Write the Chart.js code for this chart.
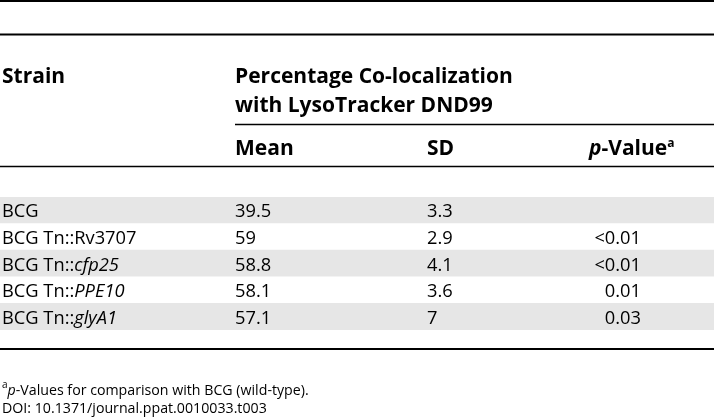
<!DOCTYPE html>
<html>
<head>
<meta charset="utf-8">
<script src="https://cdn.jsdelivr.net/npm/chart.js@4/dist/chart.umd.min.js"></script>
<style>
  html, body { margin: 0; padding: 0; background: #fff; }
  #tabela { display: block; }
</style>
</head>
<body>
<canvas id="tabela" width="714" height="419"></canvas>
<script>
// dados da tabela
const strainNames = ["BCG", "BCG Tn::Rv3707", "BCG Tn::", "BCG Tn::", "BCG Tn::"]
const strainItalic = ["", "", "cfp25", "PPE10", "glyA1"]
const means = [39.5, 59, 58.8, 58.1, 57.1]
const sds = [3.3, 2.9, 4.1, 3.6, 7]
const pValues = ["", "<0.01", "<0.01", "0.01", "0.03"]
const rowShade = ["#e6e6e6", "#ffffff", "#e6e6e6", "#ffffff", "#e6e6e6"]

const colStrain = 2
const colMean = 235
const colSD = 427
const colP = 589
const colPRight = 641

const FAM = "'Open Sans', sans-serif"
const fBody = "18.3px " + FAM
const fBodyIt = "italic 18.3px " + FAM
const fHead = "bold 21px " + FAM
const fHeadIt = "italic bold 21px " + FAM
const fNote = "14.2px " + FAM
const fNoteIt = "italic 14.2px " + FAM
const fSup = "10px " + FAM
const fSupB = "bold 12px " + FAM

function runs(ctx, x, y, parts) {
    let cx = x
    parts.forEach(p => {
        ctx.font = p.font
        ctx.fillText(p.text, cx, y + (p.dy || 0))
        cx += ctx.measureText(p.text).width
    })
    return cx
}

function rule(ctx, x0, x1, y, w) {
    ctx.fillStyle = "#000"
    ctx.fillRect(x0, y - w / 2, x1 - x0, w)
}

const tablePlugin = {
    id: "tablePlugin",
    afterDraw(chart) {
        const ctx = chart.ctx
        const xs = chart.scales.x
        const ys = chart.scales.y
        const W = chart.width
        ctx.save()
        ctx.textAlign = "left"
        ctx.textBaseline = "alphabetic"

        // linhas horizontais
        rule(ctx, 0, W, 1, 2)
        rule(ctx, 0, W, 34.5, 2)
        rule(ctx, xs.getPixelForValue(colMean), W, 124.5, 1.5)
        rule(ctx, 0, W, 166.5, 1.5)
        rule(ctx, 0, W, 349, 2)

        // cabecalho
        ctx.fillStyle = "#000"
        runs(ctx, xs.getPixelForValue(colStrain), 83, [{ text: "Strain", font: fHead }])
        runs(ctx, xs.getPixelForValue(colMean), 83, [{ text: "Percentage Co-localization", font: fHead }])
        runs(ctx, xs.getPixelForValue(colMean), 112, [{ text: "with LysoTracker DND99", font: fHead }])
        runs(ctx, xs.getPixelForValue(colMean), 155, [{ text: "Mean", font: fHead }])
        runs(ctx, xs.getPixelForValue(colSD), 155, [{ text: "SD", font: fHead }])
        runs(ctx, xs.getPixelForValue(colP), 155, [
            { text: "p", font: fHeadIt },
            { text: "-Value", font: fHead },
            { text: "a", font: fSupB, dy: -8 }
        ])

        // corpo
        strainNames.forEach((nome, i) => {
            const y = ys.getPixelForValue(i) + 7
            runs(ctx, xs.getPixelForValue(colStrain), y, [
                { text: nome, font: fBody },
                { text: strainItalic[i], font: fBodyIt }
            ])
            ctx.font = fBody
            ctx.fillText(String(means[i]), xs.getPixelForValue(colMean), y)
            ctx.fillText(String(sds[i]), xs.getPixelForValue(colSD), y)
            ctx.textAlign = "right"
            ctx.fillText(pValues[i], xs.getPixelForValue(colPRight), y)
            ctx.textAlign = "left"
        })

        // notas
        runs(ctx, xs.getPixelForValue(colStrain), 395, [
            { text: "a", font: fSup, dy: -7 },
            { text: "p", font: fNoteIt },
            { text: "-Values for comparison with BCG (wild-type).", font: fNote }
        ])
        runs(ctx, xs.getPixelForValue(colStrain), 413, [
            { text: "DOI: 10.1371/journal.ppat.0010033.t003", font: fNote }
        ])
        ctx.restore()
    }
}

new Chart(document.getElementById("tabela"), {
    type: "bar",
    data: {
        labels: strainNames.map((n, i) => n + strainItalic[i]),
        datasets: [{
            data: rowShade.map(() => 714),
            backgroundColor: rowShade,
            borderWidth: 0,
            barPercentage: 1,
            categoryPercentage: 1
        }]
    },
    options: {
        indexAxis: "y",
        responsive: false,
        animation: false,
        devicePixelRatio: 1,
        layout: { padding: { top: 197, bottom: 89, left: 0, right: 0 } },
        scales: {
            x: { display: false, min: 0, max: 714 },
            y: { display: false }
        },
        plugins: {
            legend: { display: false },
            tooltip: { enabled: false }
        }
    },
    plugins: [tablePlugin]
})
</script>
</body>
</html>
